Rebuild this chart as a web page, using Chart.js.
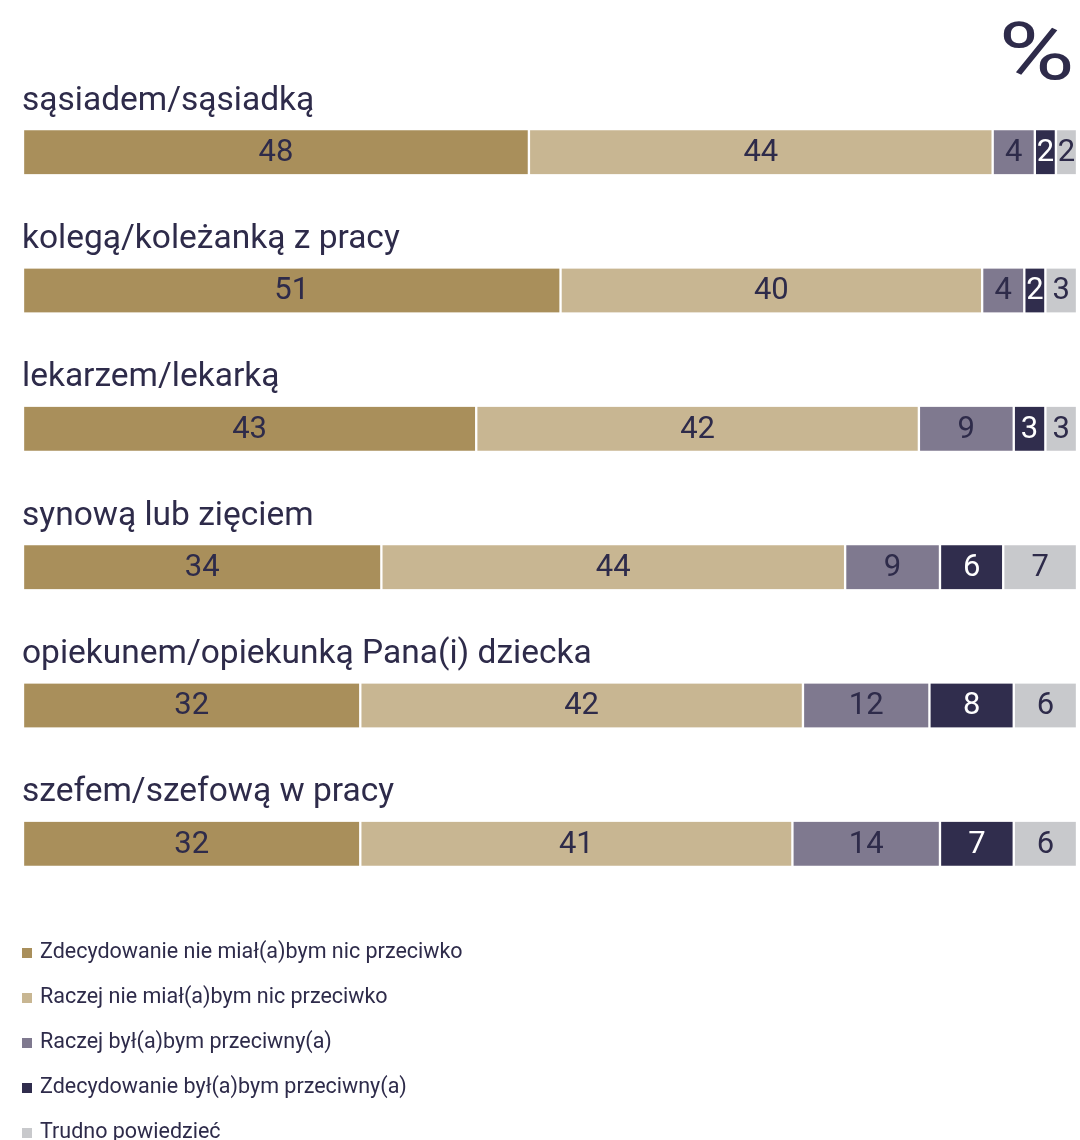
<!DOCTYPE html>
<html>
<head>
    <meta charset="utf-8">
    <title>Stosunek do osób</title>
    <script src="https://cdn.jsdelivr.net/npm/chart.js@4.4.0/dist/chart.umd.min.js"></script>
    <style>
        body { margin: 0; background: #fff; font-family: Roboto, sans-serif; color: #2e2b4a; }
        #wrap { position: relative; width: 1080px; height: 1140px; overflow: hidden; }
        #pct { position: absolute; right: 5px; top: 12px; font-size: 80px; font-weight: 400; line-height: 1;
               transform: scaleX(1.3); transform-origin: right top; }
        #legend { position: absolute; left: 22px; top: 928px; }
        .item { height: 45px; line-height: 45px; font-size: 21.5px; white-space: nowrap; }
        .box { display: inline-block; width: 10px; height: 10px; margin-right: 8px; vertical-align: 0px; }
    </style>
</head>
<body>
<div id="wrap">
    <canvas id="chart" width="1080" height="1140"></canvas>
    <div id="pct">%</div>
    <div id="legend"></div>
</div>
<script>
    // rows
    var categories = ['sąsiadem/sąsiadką', 'kolegą/koleżanką z pracy', 'lekarzem/lekarką',
        'synową lub zięciem', 'opiekunem/opiekunką Pana(i) dziecka', 'szefem/szefową w pracy'];

    // answers
    var seriesNames = ['Zdecydowanie nie miał(a)bym nic przeciwko', 'Raczej nie miał(a)bym nic przeciwko',
        'Raczej był(a)bym przeciwny(a)', 'Zdecydowanie był(a)bym przeciwny(a)', 'Trudno powiedzieć'];

    var definitelyNot = [48, 51, 43, 34, 32, 32];
    var ratherNot = [44, 40, 42, 44, 42, 41];
    var ratherAgainst = [4, 4, 9, 9, 12, 14];
    var definitelyAgainst = [2, 2, 3, 6, 8, 7];
    var hardToSay = [2, 3, 3, 7, 6, 6];

    var colors = ['#a98f5b', '#c8b692', '#7f798f', '#302d4d', '#c8c9cc'];
    var textColors = ['#2e2b4a', '#2e2b4a', '#2e2b4a', '#ffffff', '#2e2b4a'];

    var allSeries = [definitelyNot, ratherNot, ratherAgainst, definitelyAgainst, hardToSay];

    var datasets = allSeries.map(function (values, i) {
        return {
            label: seriesNames[i],
            data: values,
            backgroundColor: colors[i],
            borderColor: '#ffffff',
            borderWidth: { left: 1.5, right: 1.5, top: 0, bottom: 0 },
            borderSkipped: false,
            barThickness: 44
        };
    });

    // category names above bars + numbers inside segments
    var labelsPlugin = {
        id: 'labels',
        afterDatasetsDraw: function (chart) {
            var ctx = chart.ctx;
            ctx.save();
            ctx.textBaseline = 'middle';
            ctx.textAlign = 'left';
            ctx.font = '33.5px Roboto';
            ctx.fillStyle = '#2e2b4a';
            var first = chart.getDatasetMeta(0);
            first.data.forEach(function (bar, i) {
                ctx.fillText(categories[i], 22, bar.y - 22 - 29);
            });

            ctx.textAlign = 'center';
            ctx.font = '31px Roboto';
            chart.data.datasets.forEach(function (ds, d) {
                var meta = chart.getDatasetMeta(d);
                meta.data.forEach(function (bar, i) {
                    ctx.fillStyle = textColors[d];
                    ctx.fillText(ds.data[i], (bar.base + bar.x) / 2, bar.y + 1);
                });
            });
            ctx.restore();
        }
    };

    new Chart(document.getElementById('chart').getContext('2d'), {
        type: 'bar',
        data: { labels: categories, datasets: datasets },
        options: {
            indexAxis: 'y',
            responsive: false,
            animation: false,
            layout: { padding: { left: 23, right: 3, top: 83, bottom: 227 } },
            scales: {
                x: { stacked: true, min: 0, max: 100, display: false },
                y: { stacked: true, display: false }
            },
            plugins: {
                legend: { display: false },
                tooltip: { enabled: false }
            }
        },
        plugins: [labelsPlugin]
    });

    // legend list
    var legend = document.getElementById('legend');
    seriesNames.forEach(function (name, i) {
        var row = document.createElement('div');
        row.className = 'item';
        row.innerHTML = '<span class="box" style="background:' + colors[i] + '"></span>' + name;
        legend.appendChild(row);
    });
</script>
</body>
</html>
